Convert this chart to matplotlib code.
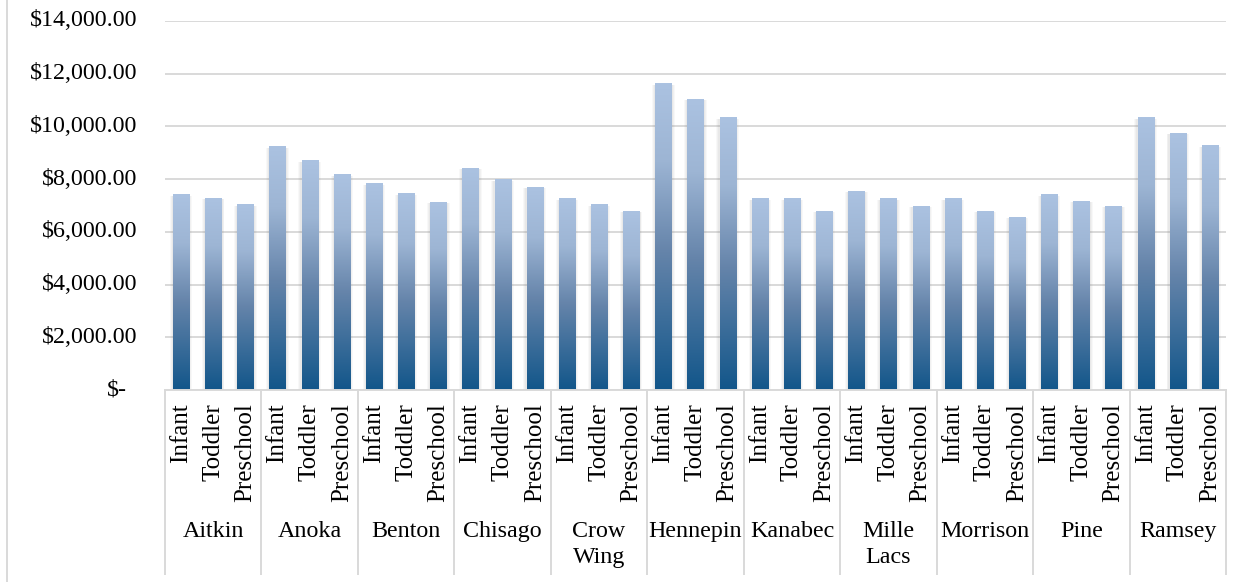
import matplotlib
matplotlib.use("Agg")
import matplotlib.pyplot as plt
import numpy as np
from matplotlib.colors import LinearSegmentedColormap
from matplotlib.patches import Rectangle
from matplotlib.lines import Line2D
from matplotlib.transforms import blended_transform_factory, offset_copy

counties = ["Aitkin", "Anoka", "Benton", "Chisago", "Crow\nWing", "Hennepin",
            "Kanabec", "Mille\nLacs", "Morrison", "Pine", "Ramsey"]
age_groups = ["Infant", "Toddler", "Preschool"]

# annual cost per county, in the order Infant / Toddler / Preschool
infant = [7400, 9220, 7820, 8420, 7250, 11610, 7250, 7550, 7250, 7400, 10320]
toddler = [7280, 8690, 7440, 7970, 7020, 11040, 7250, 7250, 6790, 7170, 9750]
preschool = [7020, 8160, 7130, 7700, 6790, 10320, 6790, 6980, 6560, 6980, 9260]

y_ticks = [0, 2000, 4000, 6000, 8000, 10000, 12000, 14000]

plt.rcParams['font.family'] = ['Liberation Serif', 'DejaVu Serif']

fig = plt.figure(figsize=(12.5, 5.82), dpi=100)
ax = fig.add_axes([165 / 1250, 1 - 390 / 582, (1226 - 165) / 1250, (390 - 21) / 582])

values = np.column_stack([infant, toddler, preschool]).ravel()
n_groups = len(counties)
x = np.arange(len(values))
bar_w = 0.5

# vertical gradient: dark navy at the base, pale blue at the top
grad_cmap = LinearSegmentedColormap.from_list(
    "bar_grad", [(0.0, "#12568a"), (0.45, "#6584aa"), (0.75, "#9db5d4"), (1.0, "#abc2e1")])
grad = np.linspace(1, 0, 256).reshape(-1, 1)

bars = ax.bar(x, values, width=bar_w, color="none", edgecolor="none", zorder=3)
for b in bars:
    x0, w, h = b.get_x(), b.get_width(), b.get_height()
    # soft shadow around the bar
    for k, a in enumerate([0.05, 0.06, 0.07]):
        grow = 0.10 - k * 0.03
        ax.add_patch(Rectangle((x0 - grow, -70 - k * 20), w + 2 * grow, h + 40 + k * 15,
                               facecolor="#7f7f7f", edgecolor="none", alpha=a, zorder=2))
    ax.imshow(grad, extent=[x0, x0 + w, 0, h], aspect="auto", cmap=grad_cmap,
              vmin=0, vmax=1, zorder=3, interpolation="bilinear")

ax.set_xlim(-0.5, len(values) - 0.5)
ax.set_ylim(0, 14000)

for s in ax.spines.values():
    s.set_visible(False)
ax.set_yticks(y_ticks)
ax.yaxis.grid(True, color="#d9d9d9", linewidth=1.4, zorder=0)
ax.set_axisbelow(True)
ax.tick_params(axis="both", length=0)
ax.set_xticks([])
ax.set_yticklabels([])

# y labels in accounting style
for v in y_ticks:
    lab = "$-" if v == 0 else f"${v:,.2f}"
    tr = blended_transform_factory(ax.transAxes, ax.transData)
    dx = -38 if v == 0 else -28
    ax.text(0, v, lab, transform=offset_copy(tr, fig=fig, x=dx, y=0, units="dots"),
            ha="right", va="center", fontsize=17.3, color="#000000")

# x axis line and group separators
ax.axhline(0, color="#d9d9d9", linewidth=1.4, zorder=4, clip_on=False)
sep_tr = blended_transform_factory(ax.transData, fig.transFigure)
for g in range(n_groups + 1):
    xs = g * 3 - 0.5
    fig.add_artist(Line2D([xs, xs], [1 - 390 / 582, 1 - 574 / 582], transform=sep_tr,
                          color="#d9d9d9", linewidth=1.4))

# category and county labels
for i in range(len(values)):
    ax.text(i, 1 - 403 / 582, age_groups[i % 3], transform=sep_tr, rotation=90,
            ha="center", va="top", fontsize=18)
for g, name in enumerate(counties):
    ax.text(g * 3 + 1, 1 - 521 / 582, name, transform=sep_tr, ha="center", va="top",
            fontsize=17.3, linespacing=1.3, multialignment="center")

# outer chart border on the left
fig.add_artist(Line2D([7 / 1250, 7 / 1250], [0, 1], transform=fig.transFigure,
                      color="#d9d9d9", linewidth=1.4))

fig.savefig("out.png", dpi=100)
